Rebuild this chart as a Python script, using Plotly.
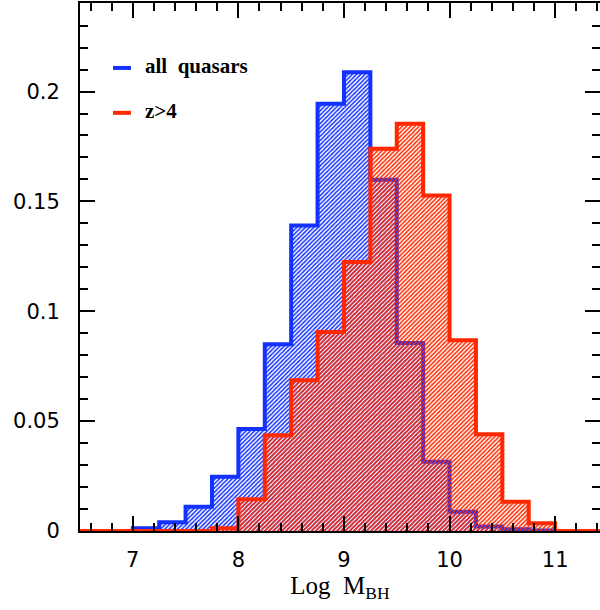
import plotly.graph_objects as go

# Histogram bin edges in log black-hole mass (0.25 dex bins)
bin_edges = [6.5, 6.75, 7.0, 7.25, 7.5, 7.75, 8.0, 8.25, 8.5, 8.75, 9.0,
             9.25, 9.5, 9.75, 10.0, 10.25, 10.5, 10.75, 11.0, 11.25, 11.5]

# Normalised counts per bin
all_quasars = [0, 0, 0.0012, 0.004, 0.011, 0.0247, 0.0464, 0.085, 0.139, 0.1944,
               0.2088, 0.1599, 0.0856, 0.0315, 0.0088, 0.002, 0.0008, 0.0002, 0, 0]
high_z = [0, 0, 0, 0, 0, 0.0012, 0.0144, 0.0436, 0.0686, 0.0906,
          0.1224, 0.174, 0.1853, 0.1527, 0.0868, 0.044, 0.0133, 0.0035, 0, 0]

series_names = ["all  quasars", "z>4"]
BLUE = "rgb(20,50,255)"
RED = "rgb(255,40,0)"


def step_xy(edges, vals):
    xs = [edges[0]] + list(edges[:-1]) + [edges[-1], edges[-1]]
    ys = [0] + list(vals) + [vals[-1], 0]
    return xs, ys


fig = go.Figure()

bx, by = step_xy(bin_edges, all_quasars)
fig.add_trace(go.Scatter(
    x=bx, y=by, mode="lines", line=dict(color=BLUE, width=4, shape="hv"),
    fill="tozeroy", fillcolor="rgba(0,0,0,0)",
    fillpattern=dict(shape="/", fgcolor=BLUE, bgcolor="rgba(255,255,255,0)",
                     size=3, solidity=0.5, fillmode="replace"),
    name=series_names[0], showlegend=False))

rx, ry = step_xy(bin_edges, high_z)
fig.add_trace(go.Scatter(
    x=rx, y=ry, mode="lines", line=dict(color=RED, width=4, shape="hv"),
    fill="tozeroy", fillcolor="rgba(0,0,0,0)",
    fillpattern=dict(shape="/", fgcolor=RED, bgcolor="rgba(255,255,255,0)",
                     size=3, solidity=0.5, fillmode="replace"),
    name=series_names[1], showlegend=False))

# Right-hand tick marks (no axis line on that side)
fig.add_trace(go.Scatter(x=[None], y=[None], yaxis="y2", showlegend=False))

tick_font = dict(family="DejaVu Sans", size=21, color="black")

fig.update_layout(
    width=600, height=610,
    margin=dict(l=80, r=0, t=3, b=79),
    paper_bgcolor="white", plot_bgcolor="white",
    showlegend=False,
    xaxis=dict(
        range=[6.5, 11.425], tickmode="array", tickvals=[7, 8, 9, 10, 11],
        ticks="inside", ticklen=15, tickwidth=2, tickcolor="black",
        minor=dict(dtick=0.2, tick0=7, ticks="inside", ticklen=8, tickwidth=2, tickcolor="black"),
        showline=True, linecolor="black", linewidth=2, mirror="ticks",
        showgrid=False, zeroline=False, tickfont=tick_font, ticklabelstandoff=9,
        title=dict(text="Log  M<sub>BH</sub>",
                   font=dict(family="Liberation Serif", size=25, color="black"),
                   standoff=5),
    ),
    yaxis=dict(
        range=[0, 0.2403], tickmode="array", tickvals=[0, 0.05, 0.1, 0.15, 0.2],
        ticktext=["0", "0.05", "0.1", "0.15", "0.2"],
        ticks="inside", ticklen=15, tickwidth=2, tickcolor="black",
        minor=dict(dtick=0.01, tick0=0, ticks="inside", ticklen=8, tickwidth=2, tickcolor="black"),
        showline=True, linecolor="black", linewidth=2, mirror=False,
        showgrid=False, zeroline=False, tickfont=tick_font, ticklabelstandoff=14,
    ),
    yaxis2=dict(
        range=[0, 0.2403], overlaying="y", side="right",
        tickmode="array", tickvals=[0, 0.05, 0.1, 0.15, 0.2],
        ticks="inside", ticklen=15, tickwidth=2, tickcolor="black",
        minor=dict(dtick=0.01, tick0=0, ticks="inside", ticklen=8, tickwidth=2, tickcolor="black"),
        showline=False, showticklabels=False, showgrid=False, zeroline=False,
    ),
)

# Legend drawn as short line samples with labels
legend_rows = [(0.877, BLUE, series_names[0]), (0.792, RED, series_names[1])]
for yy, col, label in legend_rows:
    fig.add_shape(type="line", xref="paper", yref="paper",
                  x0=0.0635, x1=0.098, y0=yy, y1=yy,
                  line=dict(color=col, width=4))
    fig.add_annotation(xref="paper", yref="paper", x=0.121, y=yy + 0.003,
                       xanchor="left", yanchor="middle", showarrow=False,
                       text=label,
                       font=dict(family="Liberation Serif", size=21,
                                 weight="bold", color="black"))

fig.write_html("out.html")
